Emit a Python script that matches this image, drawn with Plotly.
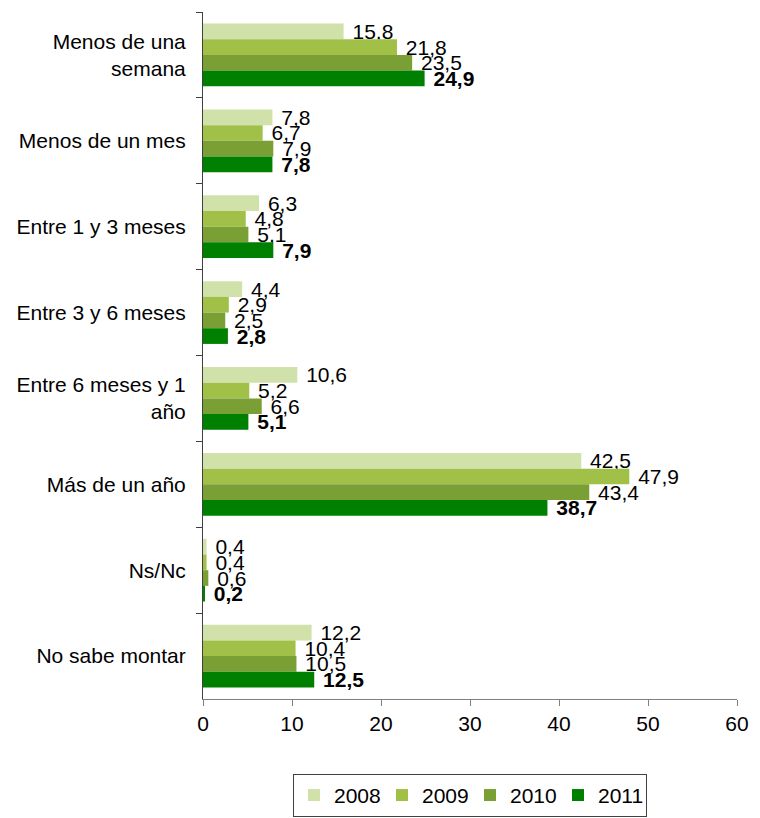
import plotly.graph_objects as go

categories = ["Menos de una<br>semana", "Menos de un mes", "Entre 1 y 3 meses", "Entre 3 y 6 meses",
              "Entre 6 meses y 1<br>año", "Más de un año", "Ns/Nc", "No sabe montar"]
years = ["2008", "2009", "2010", "2011"]
v2008 = [15.8, 7.8, 6.3, 4.4, 10.6, 42.5, 0.4, 12.2]
v2009 = [21.8, 6.7, 4.8, 2.9, 5.2, 47.9, 0.4, 10.4]
v2010 = [23.5, 7.9, 5.1, 2.5, 6.6, 43.4, 0.6, 10.5]
v2011 = [24.9, 7.8, 7.9, 2.8, 5.1, 38.7, 0.2, 12.5]
colors = ["#D0E2AA", "#A0C048", "#7AA035", "#008000"]
x_ticks = [0, 10, 20, 30, 40, 50, 60]

FONT = "Liberation Sans"
FS = 21
series = [v2008, v2009, v2010, v2011]
fig = go.Figure()
for i, (name, vals, col) in enumerate(zip(years, series, colors)):
    txt = [f"{v:.1f}".replace(".", ",") for v in vals]
    if name == "2011":
        txt = [f"<b>{t}</b>" for t in txt]
    txt = ["\u00a0" + t for t in txt]
    fig.add_trace(go.Bar(
        y=categories, x=vals, name=name, orientation="h",
        marker=dict(color=col, line=dict(width=0)),
        text=txt, textposition="outside", constraintext="none", cliponaxis=False,
        textfont=dict(family=FONT, size=FS, color="black"),
    ))

fig.update_layout(
    width=760, height=818,
    margin=dict(l=195, r=31, t=4, b=127, autoexpand=False),
    paper_bgcolor="white", plot_bgcolor="white",
    barmode="group", bargap=0.27, bargroupgap=0,
    font=dict(family=FONT, size=FS, color="black"),
    showlegend=True,
    legend=dict(orientation="h", x=0.5, xanchor="center", y=-0.109, yanchor="top",
                bordercolor="#404040", borderwidth=1, font=dict(family=FONT, size=FS),
                traceorder="normal", entrywidth=43, entrywidthmode="pixels"),
    xaxis=dict(range=[0, 60], tickvals=x_ticks, ticktext=[str(t) for t in x_ticks],
               showgrid=False, zeroline=False, showline=True, linecolor="#808080", linewidth=1,
               ticks="outside", ticklen=6, tickcolor="#808080", fixedrange=True),
    yaxis=dict(autorange="reversed", showgrid=False, zeroline=False, showline=True,
               linecolor="#404040", linewidth=1, ticks="outside", ticklen=6, tickcolor="#404040",
               tickson="boundaries", ticklabelstandoff=12),
)
fig.write_html("out.html")
